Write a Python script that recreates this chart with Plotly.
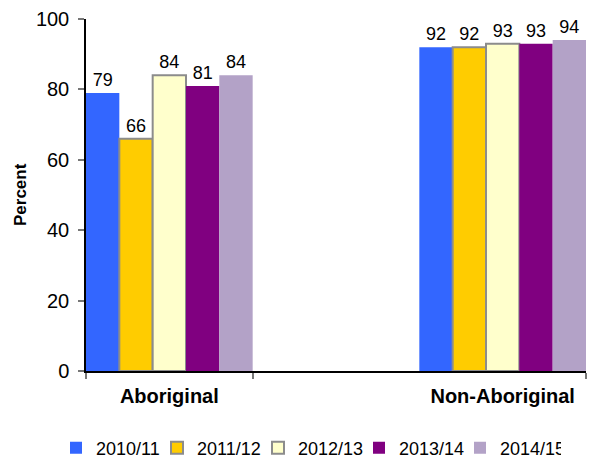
import plotly.graph_objects as go

categories = ["Aboriginal", "Non-Aboriginal"]
years = ["2010/11", "2011/12", "2012/13", "2013/14", "2014/15"]
values = {
    "2010/11": [79, 92],
    "2011/12": [66, 92],
    "2012/13": [84, 93],
    "2013/14": [81, 93],
    "2014/15": [84, 94],
}
colors = ["#3366FF", "#FFCC00", "#FFFFCC", "#800080", "#B3A2C7"]
line_colors = ["#3366FF", "#8C8C8C", "#8C8C8C", "#800080", "#B3A2C7"]
line_widths = [0, 2, 2, 0, 0]

xpos = list(range(len(categories)))

fig = go.Figure()
for i, y in enumerate(years):
    fig.add_trace(go.Bar(
        x=xpos, y=values[y], name=y,
        marker=dict(color=colors[i], line=dict(color=line_colors[i], width=line_widths[i])),
        text=[str(v) for v in values[y]], textposition="outside",
        textfont=dict(size=18, color="black", family="Liberation Sans, Arial"),
        cliponaxis=False,
    ))

# page has an 8px body margin; figure sized to stay inside the window (no scrollbars)
fig.update_layout(
    width=580, height=452,
    margin=dict(l=78, r=2, t=11, b=89, autoexpand=False),
    paper_bgcolor="white", plot_bgcolor="white",
    barmode="group", bargap=0.5, bargroupgap=0,
    font=dict(family="Liberation Sans, Arial", size=20, color="black"),
    showlegend=True,
    legend=dict(orientation="h", xref="paper", yref="paper",
                x=(56 - 86) / 500, xanchor="left", y=-(448 - 371) / 352, yanchor="middle",
                font=dict(size=18), itemwidth=30, tracegroupgap=0,
                entrywidth=56, entrywidthmode="pixels"),
    xaxis=dict(
        range=[-0.25, 1.25], tickmode="array", tickvals=xpos,
        ticktext=["<b>%s</b>" % c for c in categories],
        ticks="", showline=True, linecolor="black", linewidth=1.5,
        showgrid=False, zeroline=False, tickfont=dict(size=20),
        ticklabelstandoff=6, automargin=False,
        minor=dict(tickmode="array", tickvals=[-0.25, 0.25, 1.25], ticks="outside",
                   ticklen=6, tickcolor="#777777", tickwidth=1.5, showgrid=False),
    ),
    yaxis=dict(
        range=[0, 100], dtick=20, ticks="outside", ticklen=6, tickcolor="#777777", tickwidth=1.5,
        showline=True, linecolor="black", linewidth=1.5, showgrid=False, zeroline=False,
        tickfont=dict(size=20), ticklabelstandoff=5, automargin=False,
    ),
    annotations=[dict(
        text="<b>Percent</b>", xref="paper", yref="paper",
        x=(20 - 86) / 500, y=0.5, xanchor="center", yanchor="middle",
        textangle=-90, showarrow=False, font=dict(size=17),
    )],
)

fig.write_html("out.html")
